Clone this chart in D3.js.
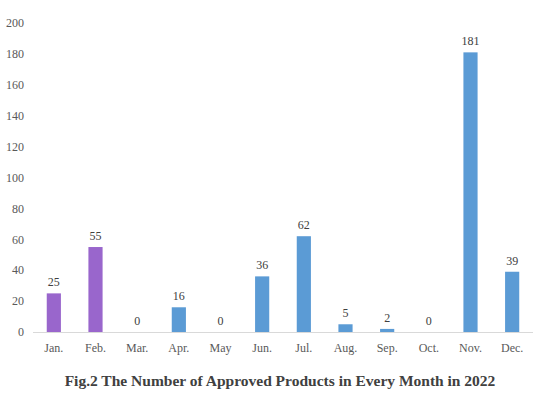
<!DOCTYPE html>
<html>
<head>
    <script src="https://d3js.org/d3.v7.min.js"></script>
</head>
<body style="margin:0; background:#fff">
    <div id="chart"></div>
    <script>
        // Data
        const months = ["Jan.", "Feb.", "Mar.", "Apr.", "May", "Jun.", "Jul.", "Aug.", "Sep.", "Oct.", "Nov.", "Dec."];
        const approved = [25, 55, 0, 16, 0, 36, 62, 5, 2, 0, 181, 39];
        const highlighted = ["Jan.", "Feb."];
        const yTicks = [0, 20, 40, 60, 80, 100, 120, 140, 160, 180, 200];

        const W = 548, H = 394;
        const margin = {top: 23, right: 15, bottom: 62, left: 33};
        const serif = "'Liberation Serif', 'Times New Roman', serif";

        const svg = d3.select("#chart")
            .append("svg")
            .attr("width", W)
            .attr("height", H)
            .style("font-family", serif);

        const x = d3.scaleBand()
            .domain(months)
            .range([margin.left, W - margin.right])
            .paddingInner(0.66)
            .paddingOuter(0.33);

        const y = d3.scaleLinear()
            .domain([0, 200])
            .range([H - margin.bottom, margin.top]);

        // y tick labels (no axis line)
        svg.append("g")
            .selectAll("text")
            .data(yTicks)
            .join("text")
            .attr("x", 24)
            .attr("y", d => y(d))
            .attr("dy", "0.35em")
            .attr("text-anchor", "end")
            .style("font-family", serif)
            .style("font-size", "12px")
            .style("fill", "#595959")
            .text(d => d);

        // bars
        svg.append("g")
            .selectAll("rect")
            .data(approved)
            .join("rect")
            .attr("x", (d, i) => x(months[i]))
            .attr("y", d => y(d))
            .attr("width", x.bandwidth())
            .attr("height", d => y(0) - y(d))
            .attr("fill", (d, i) => highlighted.includes(months[i]) ? "#9966cc" : "#5b9bd5");

        // baseline
        svg.append("line")
            .attr("x1", margin.left)
            .attr("x2", W - margin.right)
            .attr("y1", y(0) + 0.5)
            .attr("y2", y(0) + 0.5)
            .attr("stroke", "#d9d9d9")
            .attr("stroke-width", 1);

        // month labels
        svg.append("g")
            .selectAll("text")
            .data(months)
            .join("text")
            .attr("x", d => x(d) + x.bandwidth() / 2)
            .attr("y", y(0) + 16)
            .attr("dy", "0.35em")
            .attr("text-anchor", "middle")
            .style("font-family", serif)
            .style("font-size", "12px")
            .style("fill", "#595959")
            .text(d => d);

        // value labels
        svg.append("g")
            .selectAll("text")
            .data(approved)
            .join("text")
            .attr("x", (d, i) => x(months[i]) + x.bandwidth() / 2)
            .attr("y", d => y(d) - 7)
            .attr("text-anchor", "middle")
            .style("font-family", serif)
            .style("font-size", "12px")
            .style("fill", "#404040")
            .text(d => d);

        // title
        svg.append("text")
            .attr("x", 280)
            .attr("y", 386)
            .attr("text-anchor", "middle")
            .style("font-family", serif)
            .style("font-size", "15.5px")
            .style("font-weight", "bold")
            .style("fill", "#404040")
            .text("Fig.2 The Number of Approved Products in Every Month in 2022");
    </script>
</body>
</html>
